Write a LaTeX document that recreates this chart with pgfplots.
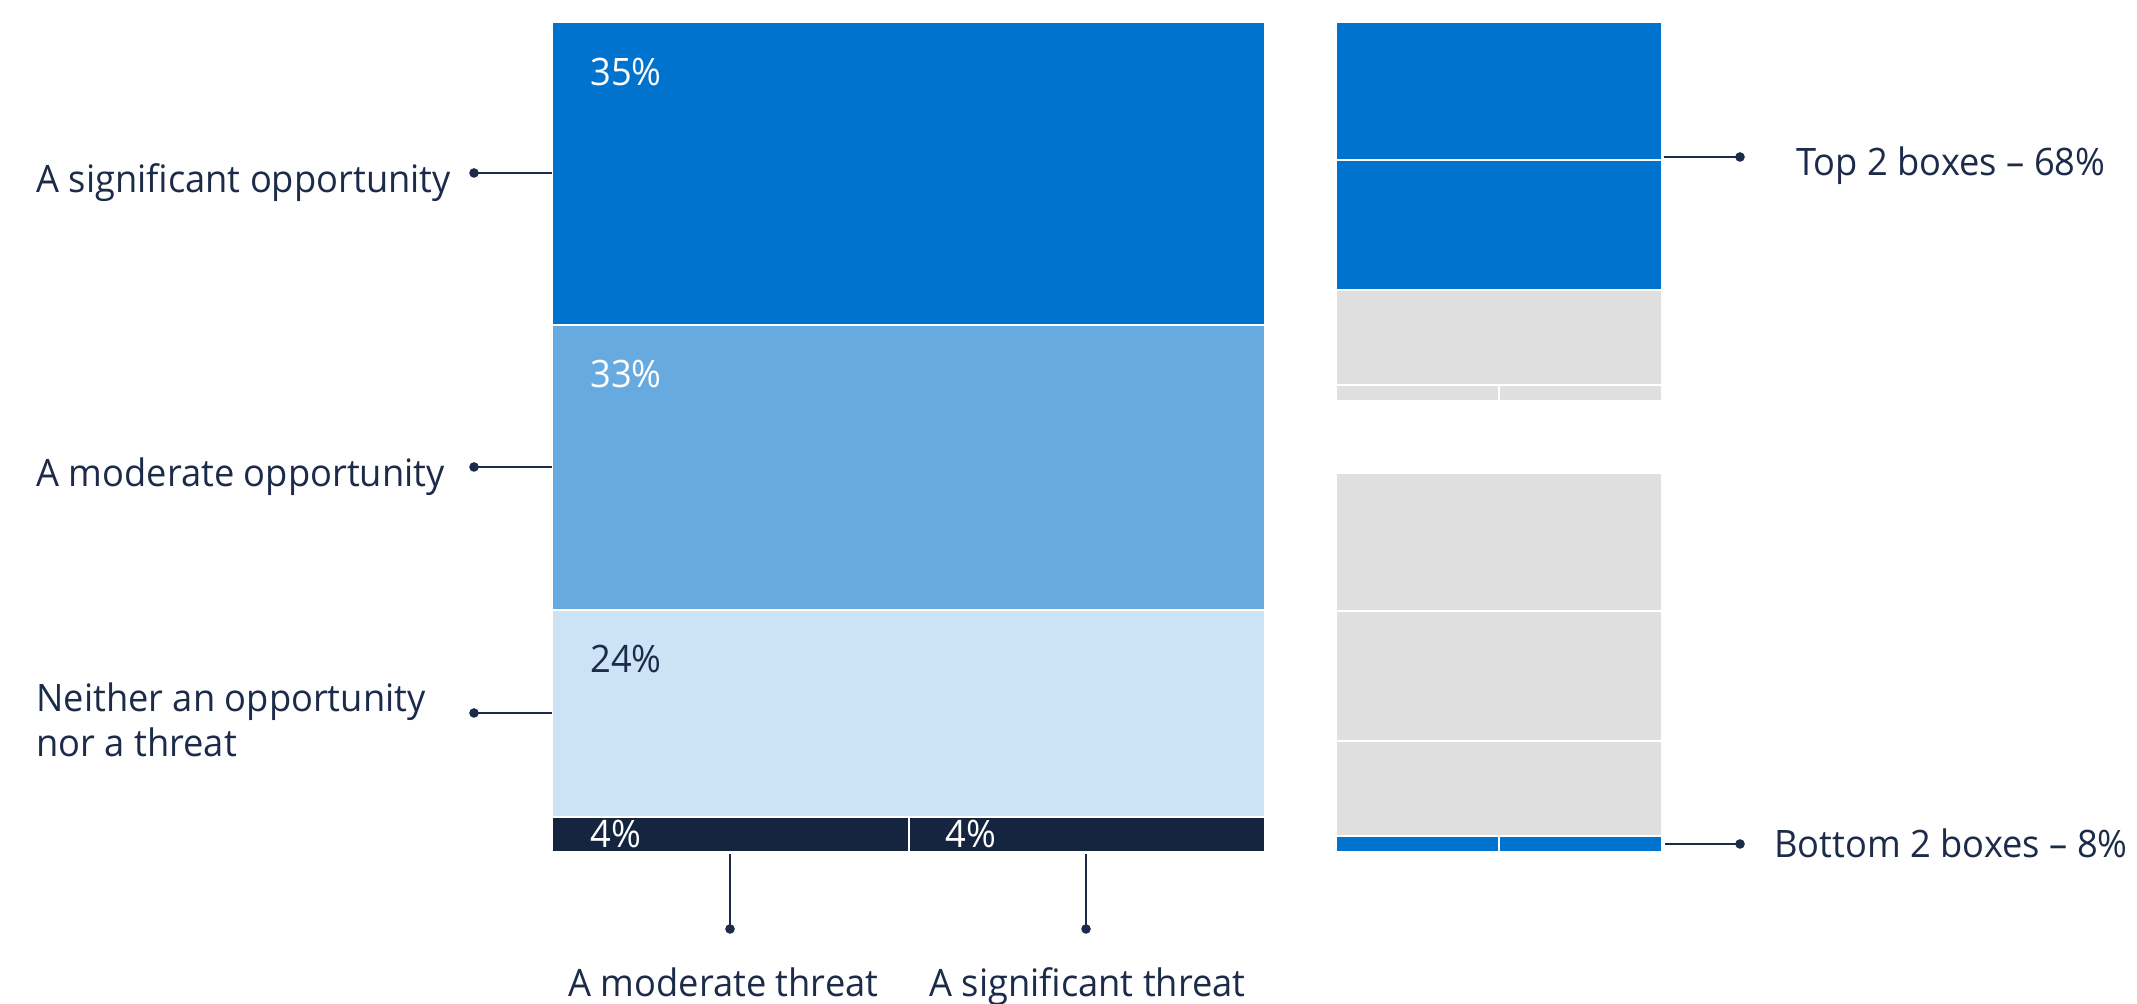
\documentclass[border=0pt]{standalone}
\usepackage{fontspec}
\setmainfont{Open Sans}[FakeStretch=0.96]
\usepackage{pgfplots}
\pgfplotsset{compat=1.18}
\definecolor{dblue}{HTML}{0073CF}
\definecolor{mblue}{HTML}{66AAE0}
\definecolor{lblue}{HTML}{CCE3F5}
\definecolor{navy}{HTML}{15243F}
\definecolor{lgrey}{HTML}{DFDFDF}
\definecolor{txt}{HTML}{1C2B4A}
\pgfplotsset{blk/.style={scale only axis, hide axis, xmin=0, xmax=2, ymin=0, ymax=96, clip=false, anchor=south west}}
\tikzset{seg/.style={draw=white, line width=1pt}}
\begin{document}
\begin{tikzpicture}
\fontsize{18.9pt}{22.5pt}\selectfont
% main block
\begin{axis}[blk, at={(276pt,76pt)}, width=356.5pt, height=415pt]
\addplot[seg, fill=navy] coordinates {(0,0) (1,0) (1,4) (0,4)} --cycle;
\addplot[seg, fill=navy] coordinates {(1,0) (2,0) (2,4) (1,4)} --cycle;
\addplot[seg, fill=lblue] coordinates {(0,4) (2,4) (2,28) (0,28)} --cycle;
\addplot[seg, fill=mblue] coordinates {(0,28) (2,28) (2,61) (0,61)} --cycle;
\addplot[seg, fill=dblue] coordinates {(0,61) (2,61) (2,96) (0,96)} --cycle;
\end{axis}
% top-2 panel
\begin{axis}[blk, at={(668pt,301.5pt)}, width=163pt, height=189.5pt]
\addplot[seg, fill=lgrey] coordinates {(0,0) (1,0) (1,4) (0,4)} --cycle;
\addplot[seg, fill=lgrey] coordinates {(1,0) (2,0) (2,4) (1,4)} --cycle;
\addplot[seg, fill=lgrey] coordinates {(0,4) (2,4) (2,28) (0,28)} --cycle;
\addplot[seg, fill=dblue] coordinates {(0,28) (2,28) (2,61) (0,61)} --cycle;
\addplot[seg, fill=dblue] coordinates {(0,61) (2,61) (2,96) (0,96)} --cycle;
\end{axis}
% bottom-2 panel
\begin{axis}[blk, at={(668pt,76pt)}, width=163pt, height=189.5pt]
\addplot[seg, fill=dblue] coordinates {(0,0) (1,0) (1,4) (0,4)} --cycle;
\addplot[seg, fill=dblue] coordinates {(1,0) (2,0) (2,4) (1,4)} --cycle;
\addplot[seg, fill=lgrey] coordinates {(0,4) (2,4) (2,28) (0,28)} --cycle;
\addplot[seg, fill=lgrey] coordinates {(0,28) (2,28) (2,61) (0,61)} --cycle;
\addplot[seg, fill=lgrey] coordinates {(0,61) (2,61) (2,96) (0,96)} --cycle;
\end{axis}
\begin{scope}[shift={(0pt,502pt)}, x=0.5pt, y=-0.5pt]
\path[use as bounding box] (0,0) rectangle (2137,1004);
% percentage labels
\node[anchor=base west, inner sep=0pt, text=white] at (590,86) {35\%};
\node[anchor=base west, inner sep=0pt, text=white] at (590,388) {33\%};
\node[anchor=base west, inner sep=0pt, text=txt] at (590,673) {24\%};
\node[anchor=base west, inner sep=0pt, text=white] at (590,848) {4\%};
\node[anchor=base west, inner sep=0pt, text=white] at (945,848) {4\%};
% leader lines
\begin{scope}[draw=txt, line width=0.6pt]
\draw (474,173) -- (552,173);
\draw (474,467) -- (552,467);
\draw (474,713) -- (552,713);
\draw (730,854) -- (730,929);
\draw (1086,854) -- (1086,929);
\draw (1664,157) -- (1740,157);
\draw (1665,844) -- (1740,844);
\end{scope}
\fill[txt] (474,173) circle[radius=2.4pt];
\fill[txt] (474,467) circle[radius=2.4pt];
\fill[txt] (474,713) circle[radius=2.4pt];
\fill[txt] (730,929) circle[radius=2.4pt];
\fill[txt] (1086,929) circle[radius=2.4pt];
\fill[txt] (1740,157) circle[radius=2.4pt];
\fill[txt] (1740,844) circle[radius=2.4pt];
% category labels
\begin{scope}[every node/.style={anchor=base west, inner sep=0pt, text=txt}]
\node at (36,193) {A significant opportunity};
\node at (36,487) {A moderate opportunity};
\node at (36,712) {Neither an opportunity};
\node at (36,757) {nor a threat};
\node at (568,997) {A moderate threat};
\node at (929,997) {A significant threat};
\node at (1796,176) {Top 2 boxes -- 68\%};
\node at (1774,858) {Bottom 2 boxes -- 8\%};
\end{scope}
\end{scope}
\end{tikzpicture}
\end{document}
